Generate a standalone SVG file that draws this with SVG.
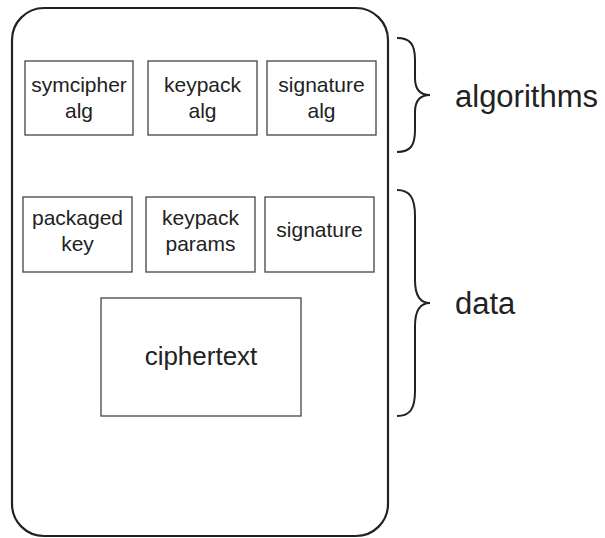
<svg xmlns="http://www.w3.org/2000/svg" width="605" height="538" viewBox="0 0 605 538">
  <style>
    .box { fill: #fff; stroke: #444; stroke-width: 1.3; }
    .outer { fill: #fff; stroke: #222; stroke-width: 2.2; }
    .brace { fill: none; stroke: #222; stroke-width: 2; }
    .lbl { font-family: "Liberation Sans", Arial, sans-serif; font-size: 21px; fill: #222; text-anchor: middle; }
    .big { font-family: "Liberation Sans", Arial, sans-serif; font-size: 31px; fill: #222; }
  </style>
  <rect width="605" height="538" fill="#fff"/>

  <!-- container -->
  <g id="container">
    <rect class="outer" x="12" y="8" width="376" height="528" rx="32" ry="32"/>
  </g>

  <!-- algorithm row -->
  <g id="symcipher-alg">
    <rect class="box" x="25" y="61" width="108" height="74"/>
    <text class="lbl" x="79" y="92">symcipher</text>
    <text class="lbl" x="79" y="118">alg</text>
  </g>
  <g id="keypack-alg">
    <rect class="box" x="148" y="61" width="109" height="74"/>
    <text class="lbl" x="202.5" y="92">keypack</text>
    <text class="lbl" x="202.5" y="118">alg</text>
  </g>
  <g id="signature-alg">
    <rect class="box" x="267" y="61" width="109" height="74"/>
    <text class="lbl" x="321.5" y="92">signature</text>
    <text class="lbl" x="321.5" y="118">alg</text>
  </g>

  <!-- data row -->
  <g id="packaged-key">
    <rect class="box" x="23" y="197" width="109" height="75"/>
    <text class="lbl" x="77.5" y="225">packaged</text>
    <text class="lbl" x="77.5" y="251">key</text>
  </g>
  <g id="keypack-params">
    <rect class="box" x="146" y="197" width="109" height="75"/>
    <text class="lbl" x="200.5" y="225">keypack</text>
    <text class="lbl" x="200.5" y="251">params</text>
  </g>
  <g id="signature">
    <rect class="box" x="265" y="197" width="109" height="75"/>
    <text class="lbl" x="319.5" y="237">signature</text>
  </g>
  <g id="ciphertext">
    <rect class="box" x="101" y="298" width="200" height="118"/>
    <text class="lbl" x="201" y="365" style="font-size:26px">ciphertext</text>
  </g>

  <!-- braces and group labels -->
  <g id="connectors">
    <path class="brace" d="M397,38 C410,38 415,44 415,60 L415,78 C415,89 420,95 430,95 C420,95 415,101 415,112 L415,130 C415,146 410,152 397,152"/>
    <path class="brace" d="M397,190 C410,190 415,198 415,216 L415,280 C415,295 420,303 430,303 C420,303 415,311 415,326 L415,391 C415,409 410,416 397,416"/>
  </g>
  <g id="algorithms-label">
    <text class="big" x="455" y="107">algorithms</text>
  </g>
  <g id="data-label">
    <text class="big" x="455" y="314">data</text>
  </g>
</svg>
